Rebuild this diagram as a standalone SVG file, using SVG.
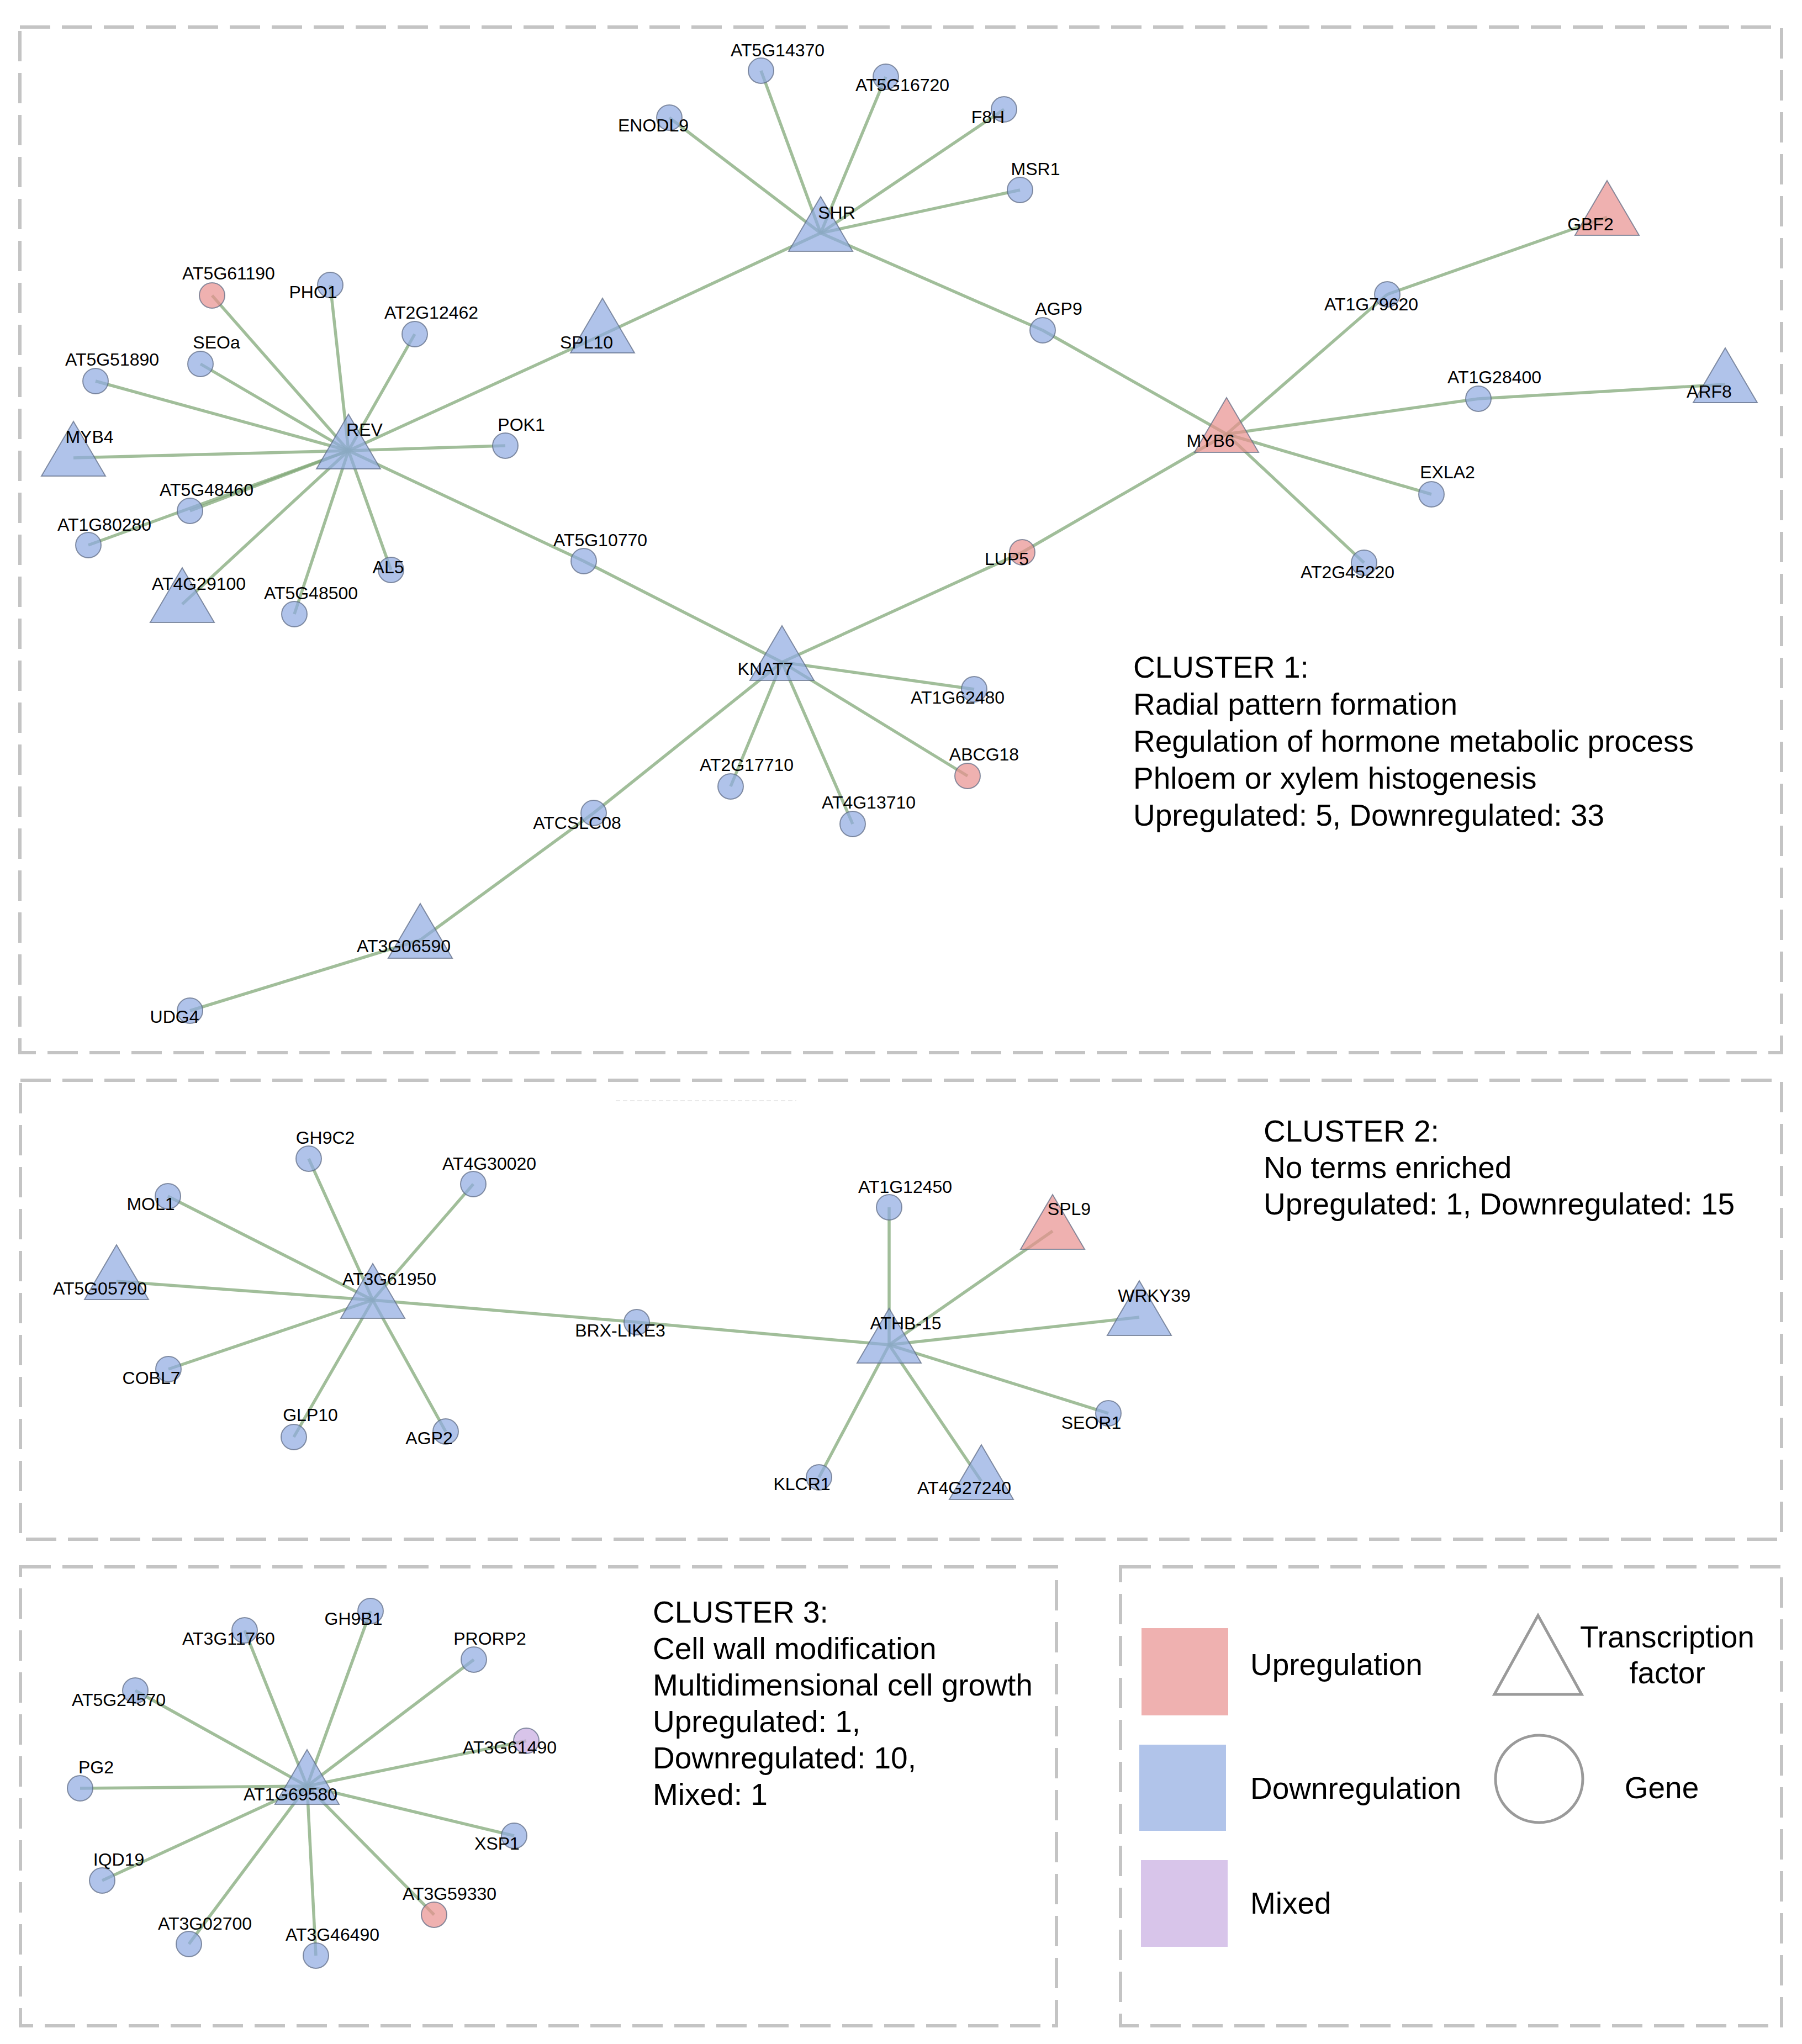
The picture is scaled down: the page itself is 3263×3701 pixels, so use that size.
<svg xmlns="http://www.w3.org/2000/svg" xmlns:xlink="http://www.w3.org/1999/xlink" width="3263" height="3701" viewBox="0 0 3263 3701">
<style>
.box{fill:none;stroke:#c4c4c4;stroke-width:6;stroke-dasharray:55 21}
.e{stroke:#82a878;stroke-opacity:0.75;stroke-width:5.5;fill:none}
.dn{fill:#8ea9e1;fill-opacity:0.7;stroke:#5a6680;stroke-opacity:0.7;stroke-width:2}
.up{fill:#e8908e;fill-opacity:0.7;stroke:#5a6680;stroke-opacity:0.7;stroke-width:2}
.mx{fill:#c7abe1;fill-opacity:0.7;stroke:#5a6680;stroke-opacity:0.7;stroke-width:2}
.lb{font-family:"Liberation Sans",Arial,sans-serif;font-size:32px;fill:#000;text-anchor:middle}
.ct{font-family:"Liberation Sans",Arial,sans-serif;font-size:55px;fill:#000}
.lg{font-family:"Liberation Sans",Arial,sans-serif;font-size:55px;fill:#000}
</style>
<defs>
<path id="tri" d="M0,-66 L58,33 L-58,33 Z"/>
</defs>
<rect width="3263" height="3701" fill="#ffffff"/>
<g id="frames">
<rect class="box" x="36" y="49" width="3190" height="1857"/>
<rect class="box" x="37" y="1956" width="3189" height="831"/>
<rect class="box" x="37" y="2837" width="1876" height="831"/>
<rect class="box" x="2029" y="2837" width="1197" height="831"/>
<line x1="1115" y1="1993" x2="1442" y2="1993" stroke="#e2e2e2" stroke-width="1.5" stroke-dasharray="8 5"/>
</g>
<g id="connectors">
<line class="e" x1="631" y1="816" x2="384" y2="535"/>
<line class="e" x1="631" y1="816" x2="598" y2="516"/>
<line class="e" x1="631" y1="816" x2="751" y2="605"/>
<line class="e" x1="631" y1="816" x2="363" y2="659"/>
<line class="e" x1="631" y1="816" x2="173" y2="690"/>
<line class="e" x1="631" y1="816" x2="133" y2="829"/>
<line class="e" x1="631" y1="816" x2="915" y2="807"/>
<line class="e" x1="631" y1="816" x2="344" y2="925"/>
<line class="e" x1="631" y1="816" x2="160" y2="987"/>
<line class="e" x1="631" y1="816" x2="330" y2="1094"/>
<line class="e" x1="631" y1="816" x2="533" y2="1112"/>
<line class="e" x1="631" y1="816" x2="708" y2="1032"/>
<line class="e" x1="631" y1="816" x2="1057" y2="1016"/>
<line class="e" x1="1057" y1="1016" x2="1416" y2="1199"/>
<line class="e" x1="631" y1="816" x2="1091" y2="606"/>
<line class="e" x1="1091" y1="606" x2="1486" y2="422"/>
<line class="e" x1="1486" y1="422" x2="1212" y2="213"/>
<line class="e" x1="1486" y1="422" x2="1378" y2="128"/>
<line class="e" x1="1486" y1="422" x2="1604" y2="139"/>
<line class="e" x1="1486" y1="422" x2="1818" y2="198"/>
<line class="e" x1="1486" y1="422" x2="1847" y2="344"/>
<line class="e" x1="1486" y1="422" x2="1888" y2="598"/>
<line class="e" x1="1888" y1="598" x2="2221" y2="786"/>
<line class="e" x1="2221" y1="786" x2="2512" y2="533"/>
<line class="e" x1="2512" y1="533" x2="2910" y2="393"/>
<line class="e" x1="2221" y1="786" x2="2677" y2="722"/>
<line class="e" x1="2677" y1="722" x2="3124" y2="696"/>
<line class="e" x1="2221" y1="786" x2="2592" y2="895"/>
<line class="e" x1="2221" y1="786" x2="2470" y2="1019"/>
<line class="e" x1="2221" y1="786" x2="1851" y2="1000"/>
<line class="e" x1="1851" y1="1000" x2="1416" y2="1199"/>
<line class="e" x1="1416" y1="1199" x2="1764" y2="1248"/>
<line class="e" x1="1416" y1="1199" x2="1752" y2="1405"/>
<line class="e" x1="1416" y1="1199" x2="1323" y2="1424"/>
<line class="e" x1="1416" y1="1199" x2="1544" y2="1492"/>
<line class="e" x1="1416" y1="1199" x2="1075" y2="1472"/>
<line class="e" x1="1075" y1="1472" x2="761" y2="1702"/>
<line class="e" x1="761" y1="1702" x2="344" y2="1830"/>
<line class="e" x1="675" y1="2354" x2="559" y2="2098"/>
<line class="e" x1="675" y1="2354" x2="857" y2="2144"/>
<line class="e" x1="675" y1="2354" x2="304" y2="2166"/>
<line class="e" x1="675" y1="2354" x2="211" y2="2320"/>
<line class="e" x1="675" y1="2354" x2="305" y2="2479"/>
<line class="e" x1="675" y1="2354" x2="532" y2="2602"/>
<line class="e" x1="675" y1="2354" x2="807" y2="2592"/>
<line class="e" x1="675" y1="2354" x2="1153" y2="2394"/>
<line class="e" x1="1153" y1="2394" x2="1610" y2="2435"/>
<line class="e" x1="1610" y1="2435" x2="1610" y2="2186"/>
<line class="e" x1="1610" y1="2435" x2="1906" y2="2229"/>
<line class="e" x1="1610" y1="2435" x2="2063" y2="2385"/>
<line class="e" x1="1610" y1="2435" x2="2007" y2="2559"/>
<line class="e" x1="1610" y1="2435" x2="1777" y2="2682"/>
<line class="e" x1="1610" y1="2435" x2="1483" y2="2675"/>
<line class="e" x1="556" y1="3234" x2="671" y2="2917"/>
<line class="e" x1="556" y1="3234" x2="443" y2="2952"/>
<line class="e" x1="556" y1="3234" x2="858" y2="3005"/>
<line class="e" x1="556" y1="3234" x2="245" y2="3061"/>
<line class="e" x1="556" y1="3234" x2="953" y2="3152"/>
<line class="e" x1="556" y1="3234" x2="145" y2="3238"/>
<line class="e" x1="556" y1="3234" x2="931" y2="3324"/>
<line class="e" x1="556" y1="3234" x2="185" y2="3405"/>
<line class="e" x1="556" y1="3234" x2="786" y2="3467"/>
<line class="e" x1="556" y1="3234" x2="342" y2="3520"/>
<line class="e" x1="556" y1="3234" x2="572" y2="3541"/>
</g>
<g id="n-REV"><use href="#tri" x="631" y="816" class="dn"/><text class="lb" x="660" y="789">REV</text></g>
<g id="n-MYB4"><use href="#tri" x="133" y="829" class="dn"/><text class="lb" x="162" y="802">MYB4</text></g>
<g id="n-AT4G29100"><use href="#tri" x="330" y="1094" class="dn"/><text class="lb" x="360" y="1068">AT4G29100</text></g>
<g id="n-SPL10"><use href="#tri" x="1091" y="606" class="dn"/><text class="lb" x="1062" y="631">SPL10</text></g>
<g id="n-SHR"><use href="#tri" x="1486" y="422" class="dn"/><text class="lb" x="1515" y="396">SHR</text></g>
<g id="n-KNAT7"><use href="#tri" x="1416" y="1199" class="dn"/><text class="lb" x="1386" y="1222">KNAT7</text></g>
<g id="n-MYB6"><use href="#tri" x="2221" y="786" class="up"/><text class="lb" x="2192" y="809">MYB6</text></g>
<g id="n-GBF2"><use href="#tri" x="2910" y="393" class="up"/><text class="lb" x="2880" y="417">GBF2</text></g>
<g id="n-ARF8"><use href="#tri" x="3124" y="696" class="dn"/><text class="lb" x="3095" y="720">ARF8</text></g>
<g id="n-AT3G06590"><use href="#tri" x="761" y="1702" class="dn"/><text class="lb" x="731" y="1724">AT3G06590</text></g>
<g id="n-AT5G61190"><circle cx="384" cy="535" r="23" class="up"/><text class="lb" x="414" y="506">AT5G61190</text></g>
<g id="n-PHO1"><circle cx="598" cy="516" r="23" class="dn"/><text class="lb" x="567" y="540">PHO1</text></g>
<g id="n-AT2G12462"><circle cx="751" cy="605" r="23" class="dn"/><text class="lb" x="781" y="577">AT2G12462</text></g>
<g id="n-SEOa"><circle cx="363" cy="659" r="23" class="dn"/><text class="lb" x="392" y="631">SEOa</text></g>
<g id="n-AT5G51890"><circle cx="173" cy="690" r="23" class="dn"/><text class="lb" x="203" y="662">AT5G51890</text></g>
<g id="n-POK1"><circle cx="915" cy="807" r="23" class="dn"/><text class="lb" x="944" y="780">POK1</text></g>
<g id="n-AT5G48460"><circle cx="344" cy="925" r="23" class="dn"/><text class="lb" x="374" y="898">AT5G48460</text></g>
<g id="n-AT1G80280"><circle cx="160" cy="987" r="23" class="dn"/><text class="lb" x="189" y="961">AT1G80280</text></g>
<g id="n-AT5G48500"><circle cx="533" cy="1112" r="23" class="dn"/><text class="lb" x="563" y="1085">AT5G48500</text></g>
<g id="n-AL5"><circle cx="708" cy="1032" r="23" class="dn"/><text class="lb" x="703" y="1038">AL5</text></g>
<g id="n-AT5G10770"><circle cx="1057" cy="1016" r="23" class="dn"/><text class="lb" x="1087" y="989">AT5G10770</text></g>
<g id="n-AT5G14370"><circle cx="1378" cy="128" r="23" class="dn"/><text class="lb" x="1408" y="102">AT5G14370</text></g>
<g id="n-AT5G16720"><circle cx="1604" cy="139" r="23" class="dn"/><text class="lb" x="1634" y="165">AT5G16720</text></g>
<g id="n-ENODL9"><circle cx="1212" cy="213" r="23" class="dn"/><text class="lb" x="1183" y="238">ENODL9</text></g>
<g id="n-F8H"><circle cx="1818" cy="198" r="23" class="dn"/><text class="lb" x="1789" y="223">F8H</text></g>
<g id="n-MSR1"><circle cx="1847" cy="344" r="23" class="dn"/><text class="lb" x="1875" y="317">MSR1</text></g>
<g id="n-AGP9"><circle cx="1888" cy="598" r="23" class="dn"/><text class="lb" x="1917" y="570">AGP9</text></g>
<g id="n-LUP5"><circle cx="1851" cy="1000" r="23" class="up"/><text class="lb" x="1823" y="1023">LUP5</text></g>
<g id="n-AT1G79620"><circle cx="2512" cy="533" r="23" class="dn"/><text class="lb" x="2483" y="562">AT1G79620</text></g>
<g id="n-AT1G28400"><circle cx="2677" cy="722" r="23" class="dn"/><text class="lb" x="2706" y="694">AT1G28400</text></g>
<g id="n-EXLA2"><circle cx="2592" cy="895" r="23" class="dn"/><text class="lb" x="2621" y="866">EXLA2</text></g>
<g id="n-AT2G45220"><circle cx="2470" cy="1019" r="23" class="dn"/><text class="lb" x="2440" y="1047">AT2G45220</text></g>
<g id="n-AT1G62480"><circle cx="1764" cy="1248" r="23" class="dn"/><text class="lb" x="1734" y="1274">AT1G62480</text></g>
<g id="n-ABCG18"><circle cx="1752" cy="1405" r="23" class="up"/><text class="lb" x="1782" y="1377">ABCG18</text></g>
<g id="n-AT2G17710"><circle cx="1323" cy="1424" r="23" class="dn"/><text class="lb" x="1352" y="1396">AT2G17710</text></g>
<g id="n-AT4G13710"><circle cx="1544" cy="1492" r="23" class="dn"/><text class="lb" x="1573" y="1464">AT4G13710</text></g>
<g id="n-ATCSLC08"><circle cx="1075" cy="1472" r="23" class="dn"/><text class="lb" x="1045" y="1501">ATCSLC08</text></g>
<g id="n-UDG4"><circle cx="344" cy="1830" r="23" class="dn"/><text class="lb" x="316" y="1852">UDG4</text></g>
<g id="n-AT3G61950"><use href="#tri" x="675" y="2354" class="dn"/><text class="lb" x="705" y="2327">AT3G61950</text></g>
<g id="n-AT5G05790"><use href="#tri" x="211" y="2320" class="dn"/><text class="lb" x="181" y="2344">AT5G05790</text></g>
<g id="n-ATHB-15"><use href="#tri" x="1610" y="2435" class="dn"/><text class="lb" x="1640" y="2407">ATHB-15</text></g>
<g id="n-SPL9"><use href="#tri" x="1906" y="2229" class="up"/><text class="lb" x="1936" y="2200">SPL9</text></g>
<g id="n-WRKY39"><use href="#tri" x="2063" y="2385" class="dn"/><text class="lb" x="2090" y="2357">WRKY39</text></g>
<g id="n-AT4G27240"><use href="#tri" x="1777" y="2682" class="dn"/><text class="lb" x="1746" y="2705">AT4G27240</text></g>
<g id="n-GH9C2"><circle cx="559" cy="2098" r="23" class="dn"/><text class="lb" x="589" y="2071">GH9C2</text></g>
<g id="n-AT4G30020"><circle cx="857" cy="2144" r="23" class="dn"/><text class="lb" x="886" y="2118">AT4G30020</text></g>
<g id="n-MOL1"><circle cx="304" cy="2166" r="23" class="dn"/><text class="lb" x="273" y="2191">MOL1</text></g>
<g id="n-COBL7"><circle cx="305" cy="2479" r="23" class="dn"/><text class="lb" x="274" y="2506">COBL7</text></g>
<g id="n-GLP10"><circle cx="532" cy="2602" r="23" class="dn"/><text class="lb" x="562" y="2573">GLP10</text></g>
<g id="n-AGP2"><circle cx="807" cy="2592" r="23" class="dn"/><text class="lb" x="777" y="2615">AGP2</text></g>
<g id="n-BRX-LIKE3"><circle cx="1153" cy="2394" r="23" class="dn"/><text class="lb" x="1123" y="2420">BRX-LIKE3</text></g>
<g id="n-AT1G12450"><circle cx="1610" cy="2186" r="23" class="dn"/><text class="lb" x="1639" y="2160">AT1G12450</text></g>
<g id="n-SEOR1"><circle cx="2007" cy="2559" r="23" class="dn"/><text class="lb" x="1976" y="2587">SEOR1</text></g>
<g id="n-KLCR1"><circle cx="1483" cy="2675" r="23" class="dn"/><text class="lb" x="1452" y="2698">KLCR1</text></g>
<g id="n-AT1G69580"><use href="#tri" x="556" y="3234" class="dn"/><text class="lb" x="526" y="3260">AT1G69580</text></g>
<g id="n-GH9B1"><circle cx="671" cy="2917" r="23" class="dn"/><text class="lb" x="640" y="2942">GH9B1</text></g>
<g id="n-AT3G11760"><circle cx="443" cy="2952" r="23" class="dn"/><text class="lb" x="414" y="2978">AT3G11760</text></g>
<g id="n-PRORP2"><circle cx="858" cy="3005" r="23" class="dn"/><text class="lb" x="887" y="2978">PRORP2</text></g>
<g id="n-AT5G24570"><circle cx="245" cy="3061" r="23" class="dn"/><text class="lb" x="215" y="3089">AT5G24570</text></g>
<g id="n-AT3G61490"><circle cx="953" cy="3152" r="23" class="mx"/><text class="lb" x="923" y="3175">AT3G61490</text></g>
<g id="n-PG2"><circle cx="145" cy="3238" r="23" class="dn"/><text class="lb" x="174" y="3211">PG2</text></g>
<g id="n-XSP1"><circle cx="931" cy="3324" r="23" class="dn"/><text class="lb" x="900" y="3349">XSP1</text></g>
<g id="n-IQD19"><circle cx="185" cy="3405" r="23" class="dn"/><text class="lb" x="215" y="3378">IQD19</text></g>
<g id="n-AT3G59330"><circle cx="786" cy="3467" r="23" class="up"/><text class="lb" x="814" y="3440">AT3G59330</text></g>
<g id="n-AT3G02700"><circle cx="342" cy="3520" r="23" class="dn"/><text class="lb" x="371" y="3494">AT3G02700</text></g>
<g id="n-AT3G46490"><circle cx="572" cy="3541" r="23" class="dn"/><text class="lb" x="602" y="3514">AT3G46490</text></g>
<g id="cluster1-text">
<text class="ct" x="2052" y="1227">CLUSTER 1:</text>
<text class="ct" x="2052" y="1294">Radial pattern formation</text>
<text class="ct" x="2052" y="1361">Regulation of hormone metabolic process</text>
<text class="ct" x="2052" y="1428">Phloem or xylem histogenesis</text>
<text class="ct" x="2052" y="1495">Upregulated: 5, Downregulated: 33</text>
</g>
<g id="cluster2-text">
<text class="ct" x="2288" y="2067">CLUSTER 2:</text>
<text class="ct" x="2288" y="2133">No terms enriched</text>
<text class="ct" x="2288" y="2199">Upregulated: 1, Downregulated: 15</text>
</g>
<g id="cluster3-text">
<text class="ct" x="1182" y="2938">CLUSTER 3:</text>
<text class="ct" x="1182" y="3004">Cell wall modification</text>
<text class="ct" x="1182" y="3070">Multidimensional cell growth</text>
<text class="ct" x="1182" y="3136">Upregulated: 1,</text>
<text class="ct" x="1182" y="3202">Downregulated: 10,</text>
<text class="ct" x="1182" y="3268">Mixed: 1</text>
</g>
<g id="legend">
<rect x="2067" y="2948" width="157" height="158" fill="#efb1b0"/>
<rect x="2063" y="3159" width="157" height="156" fill="#b1c4ea"/>
<rect x="2066" y="3368" width="157" height="157" fill="#d8c5ea"/>
<text class="lg" x="2264" y="3033">Upregulation</text>
<text class="lg" x="2264" y="3257">Downregulation</text>
<text class="lg" x="2264" y="3465">Mixed</text>
<path d="M2785,2925 L2864,3068 L2706,3068 Z" fill="none" stroke="#9a9a9a" stroke-width="5"/>
<circle cx="2787" cy="3221" r="79" fill="none" stroke="#9a9a9a" stroke-width="5"/>
<text class="lg" x="3019" y="2983" text-anchor="middle">Transcription</text>
<text class="lg" x="3019" y="3048" text-anchor="middle">factor</text>
<text class="lg" x="3009" y="3256" text-anchor="middle">Gene</text>
</g>
</svg>
